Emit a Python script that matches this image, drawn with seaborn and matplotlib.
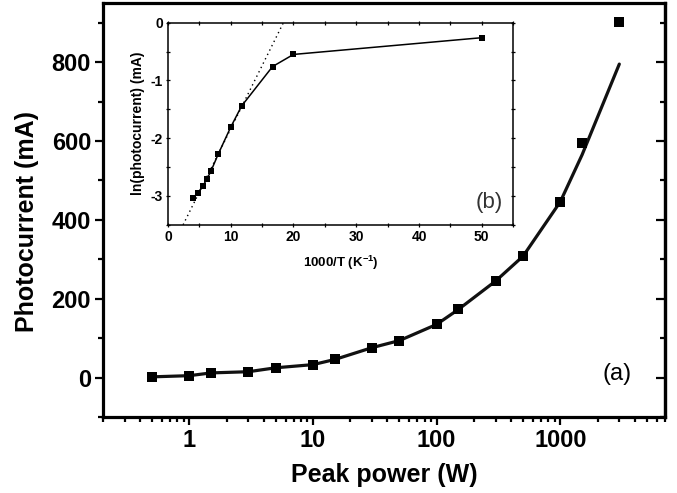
import numpy as np
import pandas as pd
import matplotlib
matplotlib.use("Agg")
import matplotlib.pyplot as plt
from matplotlib.ticker import MultipleLocator, LogLocator, NullFormatter
import seaborn as sns

# ---- data ----
power_w = [0.5, 1, 1.5, 3, 5, 10, 15, 30, 50, 100, 150, 300, 500, 1000, 1500, 3000]
photocurrent_ma = [2, 5, 12, 15, 25, 33, 46, 76, 94, 135, 173, 245, 308, 446, 594, 902]
fit_ma = [2, 5, 12, 15, 25, 33, 46, 76, 94, 135, 173, 245, 308, 446, 565, 795]

inv_temp = [4.0, 4.76, 5.56, 6.25, 6.9, 8.0, 10.0, 11.76, 16.67, 20.0, 50.0]
ln_current = [-3.03, -2.95, -2.83, -2.70, -2.56, -2.28, -1.81, -1.44, -0.76, -0.55, -0.26]
arrh_slope = 0.219
arrh_intercept = -4.03

main_df = pd.DataFrame({"power": power_w, "current": photocurrent_ma, "fit": fit_ma})
inset_df = pd.DataFrame({"x": inv_temp, "y": ln_current})

sns.set_style("ticks")
plt.rcParams["font.family"] = ["Liberation Sans", "DejaVu Sans"]
plt.rcParams["font.weight"] = "bold"
plt.rcParams["axes.unicode_minus"] = False
plt.rcParams["mathtext.fontset"] = "custom"
plt.rcParams["mathtext.rm"] = "Liberation Sans:bold"
plt.rcParams["mathtext.it"] = "Liberation Sans:bold"
plt.rcParams["mathtext.bf"] = "Liberation Sans:bold"
for key in ["text.color", "axes.labelcolor", "xtick.color", "ytick.color", "axes.edgecolor"]:
    plt.rcParams[key] = "black"

fig = plt.figure(figsize=(6.77, 4.93), dpi=100)
ax = fig.add_axes([0.152, 0.154, 0.830, 0.840])

sns.lineplot(data=main_df, x="power", y="fit", ax=ax, color="#111111", linewidth=2.3)
sns.scatterplot(data=main_df, x="power", y="current", ax=ax, marker="s", s=48,
                color="black", edgecolor="black", linewidth=0, zorder=3)

ax.set_xscale("log")
ax.set_xlim(0.2, 7000)
ax.set_ylim(-100, 950)
ax.set_xticks([1, 10, 100, 1000])
ax.set_xticklabels(["1", "10", "100", "1000"])
ax.xaxis.set_minor_locator(LogLocator(base=10, subs=np.arange(2, 10)))
ax.xaxis.set_minor_formatter(NullFormatter())
ax.set_yticks([0, 200, 400, 600, 800])
ax.yaxis.set_minor_locator(MultipleLocator(100))

for sp in ax.spines.values():
    sp.set_visible(True)
    sp.set_linewidth(2.3)
    sp.set_color("black")
ax.tick_params(axis="both", which="major", direction="out", length=5.5, width=1.6,
               labelsize=17, right=False, top=False, pad=3, colors="black")
ax.tick_params(axis="both", which="minor", direction="out", length=3.5, width=1.6,
               right=False, top=False, colors="black")
for lab in ax.get_xticklabels() + ax.get_yticklabels():
    lab.set_fontweight("bold")

sec = ax.secondary_yaxis("right")
sec.set_yticks([0, 200, 400, 600, 800])
sec.yaxis.set_minor_locator(MultipleLocator(100))
sec.tick_params(axis="y", which="major", direction="in", length=6.5, width=1.6,
                labelright=False, colors="black")
sec.tick_params(axis="y", which="minor", direction="in", length=3.6, width=1.6, colors="black")
sec.spines["right"].set_linewidth(2.3)
sec.spines["right"].set_color("black")

ax.set_xlabel("Peak power (W)", fontsize=18, fontweight="bold", labelpad=8)
ax.set_ylabel("Photocurrent (mA)", fontsize=18, fontweight="bold", labelpad=4)
ax.yaxis.set_label_coords(-0.113, 0.473)
ax.text(0.915, 0.105, "(a)", transform=ax.transAxes, fontsize=17, fontweight="normal",
        ha="center", va="center")

# ---- inset ----
ins = fig.add_axes([0.248, 0.544, 0.510, 0.410])
ins.axline((0, arrh_intercept), slope=arrh_slope, color="black", linestyle=(0, (1, 2.5)),
           linewidth=1.0)
sns.lineplot(data=inset_df, x="x", y="y", ax=ins, color="black", linewidth=1.1)
sns.scatterplot(data=inset_df, x="x", y="y", ax=ins, marker="s", s=20,
                color="black", edgecolor="black", linewidth=0, zorder=3)
ins.set_xlim(0, 55)
ins.set_ylim(-3.5, 0)
ins.set_xticks([0, 10, 20, 30, 40, 50])
ins.xaxis.set_minor_locator(MultipleLocator(5))
ins.set_yticks([0, -1, -2, -3])
ins.yaxis.set_minor_locator(MultipleLocator(0.5))
for sp in ins.spines.values():
    sp.set_visible(True)
    sp.set_linewidth(1.1)
    sp.set_color("black")
ins.tick_params(axis="both", which="both", direction="inout", length=3, width=0.9,
                top=True, right=True, labelsize=10, pad=2, colors="black")
for lab in ins.get_xticklabels() + ins.get_yticklabels():
    lab.set_fontweight("bold")
ins.set_xlabel(r"1000/T (K$^{-1}$)", fontsize=9.5, fontweight="bold", labelpad=7)
ins.set_ylabel("ln(photocurrent) (mA)", fontsize=10, fontweight="bold", labelpad=4)
ins.text(0.93, 0.11, "(b)", transform=ins.transAxes, fontsize=16, fontweight="normal",
         ha="center", va="center", color="#333333")

fig.savefig("out.png", dpi=100)
